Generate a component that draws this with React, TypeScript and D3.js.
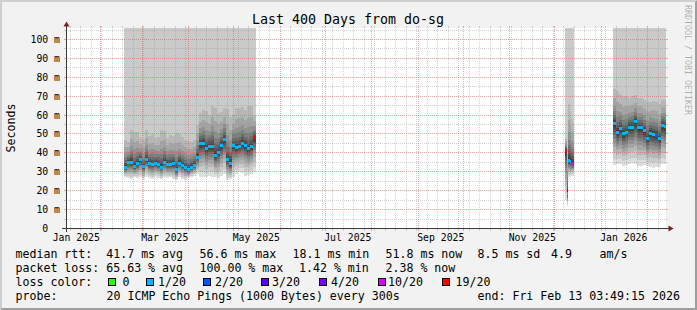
import React from "react";
import * as d3 from "d3";

const W = 697;
const H = 310;
const END_TIME = "2026-02-13T03:49:15Z";
const SPAN_DAYS = 400;
const Y_MAX = 105.82;
const FONT = "'DejaVu Sans Mono', monospace";

const titleText = "Last 400 Days from do-sg";
const yAxisTitle = "Seconds";
const watermark = "RRDTOOL / TOBI OETIKER";

const yTickValues = [0, 10, 20, 30, 40, 50, 60, 70, 80, 90, 100];
const yTickLabels = ["0  ", "10 m", "20 m", "30 m", "40 m", "50 m", "60 m", "70 m", "80 m", "90 m", "100 m"];
const yMinorValues = [5, 15, 25, 35, 45, 55, 65, 75, 85, 95, 105];
const xTickMonths = ["2025-01-01", "2025-03-01", "2025-05-01", "2025-07-01", "2025-09-01", "2025-11-01", "2026-01-01"];
const xTickLabels = ["Jan 2025", "Mar 2025", "May 2025", "Jul 2025", "Sep 2025", "Nov 2025", "Jan 2026"];

const lossBuckets = [0, 1, 2, 3, 4, 10, 19];
const lossLabels = ["0", "1/20", "2/20", "3/20", "4/20", "10/20", "19/20"];
const lossColors = ["#26ff00", "#00b8ff", "#0059ff", "#5e00ff", "#7e00ff", "#dd00ff", "#ff0000"];

// segment 1: Feb-May 2025, 2-day steps
const seg1Start = "2025-02-17";
const seg1StepDays = 2;
const seg1Median = [32.5, 35, 35, 32.8, 34.3, 36.4, 32.8, 36.4, 34.3, 33.9, 34.6, 34, 32.5, 35.1, 34, 33.8, 34.3, 31, 34.6, 33.4, 32.5, 31, 32.5, 33.4, 37.8, 44.9, 45.2, 42.5, 43.5, 43.5, 38.7, 40.4, 44, 47, 36.4, 34.3, 44, 43, 43.5, 45.2, 44, 42.2, 43.5, 48];
const seg1Loss = [1, 1, 1, 1, 1, 1, 1, 1, 1, 1, 1, 1, 1, 1, 1, 1, 1, 1, 1, 1, 1, 1, 1, 1, 1, 1, 1, 1, 1, 1, 1, 1, 1, 1, 1, 1, 1, 1, 1, 1, 1, 1, 1, 19];
const seg1Low = [27, 26.5, 26, 27, 26.5, 27, 26, 27.5, 26.5, 26, 27, 26.5, 26, 27, 26.5, 27, 26, 25.5, 27, 26, 25.5, 26.5, 27, 28, 29, 27, 27.5, 27, 28, 27.5, 27, 26.5, 28, 29, 25.5, 26, 27.5, 29, 30, 29.5, 28, 28.5, 29, 30];
const seg1High = [47, 46, 52, 51, 51, 48, 47, 52, 49, 50, 48, 48.5, 52, 51.5, 48, 49.5, 49, 50.5, 50, 48.5, 47, 46.5, 46, 47, 55, 61, 62.5, 62, 60, 65, 64, 61, 61.5, 63.5, 63, 59, 60, 63.5, 64, 64.5, 62.5, 65, 65, 60];

// segment 2: December 2025, 1-day steps
const seg2Start = "2025-12-08";
const seg2StepDays = 1;
const seg2Median = [41.3, 18.7, 36, 35.5, 34.6, 34.5];
const seg2Loss = [19, 1, 1, 1, 10, 10];
const seg2Low = [15, 12, 27, 27, 28, 28];
const seg2High = [48, 42, 66, 62, 58, 56];

// segment 3: Jan-Feb 2026, 2-day steps
const seg3Start = "2026-01-09";
const seg3StepDays = 2;
const seg3Median = [55.5, 51, 52.8, 50.2, 51, 53.7, 53.7, 56.5, 53.4, 53.4, 51.6, 47.5, 50.5, 49.8, 49.3, 47.5, 54.6, 54];
const seg3Loss = [1, 1, 1, 1, 1, 1, 1, 1, 1, 1, 1, 1, 1, 1, 2, 1, 1, 1];
const seg3Low = [33.5, 34, 34, 33, 33.5, 34, 34.5, 34, 33, 33, 33.5, 33, 32.5, 32, 32.5, 32.5, 34, 34];
const seg3High = [74, 73, 71, 70, 70, 69, 70, 70.5, 69, 69, 68, 67, 67, 67.5, 67, 66, 68, 68];

// legend rows
const legendRow1 = [
  { x: 15.5, t: "median rtt:  41.7 ms avg" },
  { x: 199.5, t: "56.6 ms max" },
  { x: 292.5, t: "18.1 ms min" },
  { x: 385.5, t: "51.8 ms now" },
  { x: 477.5, t: "8.5 ms sd" },
  { x: 551, t: "4.9" },
  { x: 599.5, t: "am/s" },
];
const legendRow2 = [
  { x: 15.5, t: "packet loss: 65.63 % avg" },
  { x: 199.5, t: "100.00 % max" },
  { x: 299, t: "1.42 % min" },
  { x: 385.5, t: "2.38 % now" },
];
const lossBoxX = [108, 146, 203, 261, 319, 377.5, 442];
const lossTextX = [122.5, 158, 215, 272, 331, 388, 455.5];
const legendRow4 = [
  { x: 15.5, t: "probe:" },
  { x: 106.5, t: "20 ICMP Echo Pings (1000 Bytes) every 300s" },
  { x: 477.5, t: "end: Fri Feb 13 03:49:15 2026" },
];

// smoke band shaping (fraction of distance from median to tails)
const upperFrac = [1, 0.72, 0.5, 0.36, 0.25, 0.16, 0.09, 0.04];
const lowerFrac = [0.85, 0.7, 0.57, 0.46, 0.36, 0.27, 0.19, 0.12, 0.05];

const segments = [
  { start: seg1Start, step: seg1StepDays, med: seg1Median, loss: seg1Loss, lo: seg1Low, hi: seg1High },
  { start: seg2Start, step: seg2StepDays, med: seg2Median, loss: seg2Loss, lo: seg2Low, hi: seg2High },
  { start: seg3Start, step: seg3StepDays, med: seg3Median, loss: seg3Loss, lo: seg3Low, hi: seg3High },
];

const DAY = 864e5;

function lossColor(l: number) {
  let c = lossColors[0];
  lossBuckets.forEach((b, i) => {
    if (l >= b) c = lossColors[i];
  });
  return c;
}

export default function App() {
  const end = new Date(END_TIME);
  const start = new Date(end.getTime() - SPAN_DAYS * DAY);
  const x = d3.scaleUtc().domain([start, end]).range([66, 666]);
  const y = d3.scaleLinear().domain([0, Y_MAX]).range([228.5, 28.5]);
  const X0 = 66, X1 = 666, Y0 = 228, Y1 = 28;
  const px = (v: number) => Math.floor(v) + 0.5;
  const clampY = (v: number) => Math.max(Y1, Math.min(228.5, v));

  const gridC = "rgba(143,143,143,0.4)";
  const mgridC = "rgba(222,79,79,0.5)";

  const area = d3
    .area<{ x: number; t: number; b: number }>()
    .x((d) => d.x)
    .y0((d) => d.b)
    .y1((d) => d.t)
    .curve(d3.curveStepAfter);

  const smoke: React.ReactNode[] = [];
  const medians: React.ReactNode[] = [];
  segments.forEach((s, si) => {
    const t0 = Date.parse(s.start + "T00:00:00Z");
    const xs = s.med.map((_, i) => Math.min(X1, x(new Date(t0 + i * s.step * DAY))));
    const xEnd = Math.min(X1, x(new Date(t0 + s.med.length * s.step * DAY)));
    for (let b = 1; b <= 10; b++) {
      const pts = s.med.map((m, i) => {
        const lo = s.lo[i], hi = s.hi[i];
        const top = b <= 2 ? Y1 : clampY(y(m + (hi - m) * upperFrac[b - 3]));
        const bot = b === 1 ? clampY(y(lo)) : clampY(y(m - (m - lo) * lowerFrac[b - 2]));
        return { x: xs[i], t: top, b: bot };
      });
      pts.push({ ...pts[pts.length - 1], x: xEnd });
      const c = 19 * (10 - b) + 50;
      smoke.push(
        <path key={`s${si}-${b}`} d={area(pts) || ""} fill={`rgb(${c},${c},${c})`} />
      );
    }
    s.med.forEach((m, i) => {
      if (s.loss[i] >= 20) return;
      const xa = xs[i];
      const xb = i + 1 < xs.length ? xs[i + 1] : xEnd;
      medians.push(
        <rect
          key={`m${si}-${i}`}
          x={xa}
          y={y(m) - 1.5}
          width={Math.max(0, xb - xa)}
          height={3}
          fill={lossColor(s.loss[i])}
        />
      );
    });
  });

  // vertical grid
  const months = d3.utcMonth.range(start, end);
  const monthSet = new Set(months.map((m) => m.getTime()));
  const weeks = d3.utcSunday.range(start, end).filter((w) => !monthSet.has(w.getTime()));
  const vLine = (t: Date, color: string, key: string) => {
    const xx = px(x(t));
    return (
      <g key={key}>
        <line x1={xx} x2={xx} y1={Y1 - 2} y2={Y1} stroke={color} />
        <line x1={xx} x2={xx} y1={Y0 + 1} y2={Y0 + 3} stroke={color} />
        <line x1={xx} x2={xx} y1={Y0} y2={Y1} stroke={color} strokeDasharray="1,1" />
      </g>
    );
  };
  const hLine = (v: number, color: string, key: string) => {
    const yy = px(y(v));
    return (
      <g key={key}>
        <line x1={X0 - 2} x2={X0} y1={yy} y2={yy} stroke={color} />
        <line x1={X1} x2={X1 + 2} y1={yy} y2={yy} stroke={color} />
        <line x1={X0} x2={X1} y1={yy} y2={yy} stroke={color} strokeDasharray="1,1" />
      </g>
    );
  };

  const T = (props: any) => <text xmlSpace="preserve" style={{ whiteSpace: "pre" }} {...props} />;

  return (
    <svg
      width={W}
      height={H}
      viewBox={`0 0 ${W} ${H}`}
      style={{ position: "absolute", left: 0, top: 0, fontFamily: FONT }}
    >
      <rect x={0} y={0} width={W} height={H} fill="#f2f2f2" />
      <polygon points={`0,${H} 2,${H - 2} 2,2 ${W - 2},2 ${W},0 0,0`} fill="#cfcfcf" />
      <polygon points={`2,${H - 2} ${W - 2},${H - 2} ${W - 2},2 ${W},0 ${W},${H} 0,${H}`} fill="#9e9e9e" />
      <rect x={X0} y={Y1} width={X1 - X0} height={Y0 - Y1 + 1} fill="#ffffff" />

      <g shapeRendering="crispEdges">{smoke}</g>

      <g shapeRendering="crispEdges">
        {weeks.map((w, i) => vLine(w, gridC, `w${i}`))}
        {yMinorValues.filter((v) => v <= Y_MAX).map((v, i) => hLine(v, gridC, `hm${i}`))}
        {months.map((m, i) => vLine(m, mgridC, `mo${i}`))}
        {yTickValues.filter((v) => v > 0).map((v, i) => hLine(v, mgridC, `hM${i}`))}
      </g>

      <g shapeRendering="crispEdges">{medians}</g>

      {/* axes */}
      <g shapeRendering="crispEdges">
        <line x1={X0 - 4} x2={X1 + 4} y1={Y0 + 0.5} y2={Y0 + 0.5} stroke="#3a3a3a" />
        <line x1={X0 + 0.5} x2={X0 + 0.5} y1={Y0 + 4} y2={Y1 - 4} stroke="#3a3a3a" />
      </g>
      <polygon points={`${X1 + 2.5},${Y0 - 2.5} ${X1 + 2.5},${Y0 + 3.5} ${X1 + 7.5},${Y0 + 0.5}`} fill="#801f1f" />
      <polygon points={`${X0 - 2.5},${Y1 - 1.5} ${X0 + 3.5},${Y1 - 1.5} ${X0 + 0.5},${Y1 - 6.5}`} fill="#801f1f" />

      {/* tick labels */}
      <g fontSize={9.8} fill="#000">
        {yTickValues.map((v, i) => (
          <T key={i} x={60} y={px(y(v)) + 3.5} textAnchor="end">
            {yTickLabels[i]}
          </T>
        ))}
        {xTickMonths.map((m, i) => {
          const t = new Date(Date.parse(m + "T00:00:00Z") + 15 * DAY);
          return (
            <T key={m} x={x(t)} y={241} textAnchor="middle">
              {xTickLabels[i]}
            </T>
          );
        })}
      </g>

      <T x={348} y={24} fontSize={13.3} textAnchor="middle" fill="#000">
        {titleText}
      </T>
      <T transform={`translate(15,128) rotate(-90)`} fontSize={11.6} textAnchor="middle" fill="#000">
        {yAxisTitle}
      </T>
      <T transform={`translate(685,5) rotate(90)`} fontSize={8.3} fill="#000" fillOpacity={0.3}>
        {watermark}
      </T>

      {/* legend */}
      <g fontSize={11.6} fill="#000">
        {legendRow1.map((d, i) => (
          <T key={`r1${i}`} x={d.x} y={258}>
            {d.t}
          </T>
        ))}
        {legendRow2.map((d, i) => (
          <T key={`r2${i}`} x={d.x} y={272}>
            {d.t}
          </T>
        ))}
        <T x={15.5} y={286}>
          loss color:
        </T>
        {lossLabels.map((l, i) => (
          <g key={`lc${i}`}>
            <rect
              x={lossBoxX[i] + 0.5}
              y={278.5}
              width={7}
              height={7}
              fill={lossColors[i]}
              stroke="#000"
              shapeRendering="crispEdges"
            />
            <T x={lossTextX[i]} y={286}>
              {l}
            </T>
          </g>
        ))}
        {legendRow4.map((d, i) => (
          <T key={`r4${i}`} x={d.x} y={300}>
            {d.t}
          </T>
        ))}
      </g>
    </svg>
  );
}
